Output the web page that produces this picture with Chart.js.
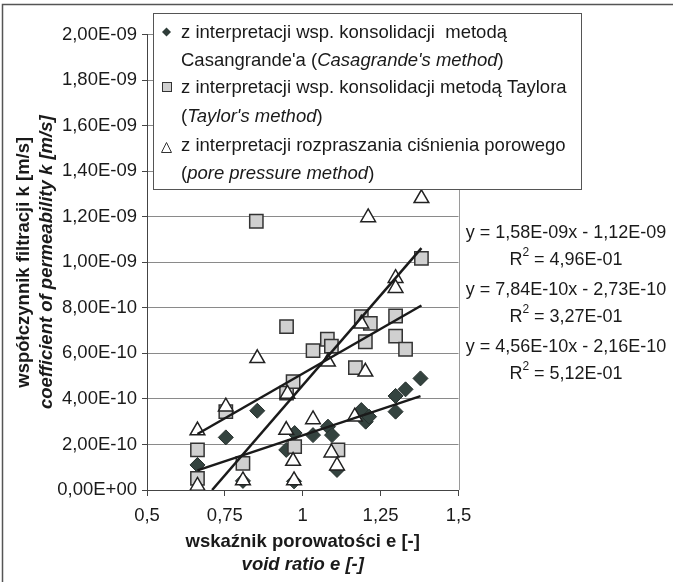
<!DOCTYPE html>
<html>
<head>
<meta charset="utf-8">
<script src="https://cdn.jsdelivr.net/npm/chart.js@4.4.1/dist/chart.umd.min.js"></script>
<style>
  html, body { margin: 0; padding: 0; background: #fff; }
</style>
</head>
<body>
<canvas id="permChart" width="673" height="582"></canvas>
<script>
// values (void ratio e, permeability k in m/s)
const casagrandeX = [0.662, 0.753, 0.808, 0.854, 0.947, 0.972, 0.974, 1.033, 1.081, 1.094, 1.110, 1.188, 1.202, 1.213, 1.298, 1.298, 1.330, 1.378];
const casagrandeY = [1.10e-10, 2.31e-10, 0.40e-10, 3.48e-10, 1.76e-10, 0.38e-10, 2.50e-10, 2.41e-10, 2.78e-10, 2.41e-10, 0.88e-10, 3.51e-10, 3.00e-10, 3.22e-10, 3.44e-10, 4.13e-10, 4.42e-10, 4.90e-10];

const taylorX = [0.662, 0.662, 0.753, 0.808, 0.851, 0.948, 0.948, 0.969, 0.974, 1.033, 1.079, 1.092, 1.113, 1.169, 1.188, 1.201, 1.217, 1.298, 1.298, 1.330, 1.381];
const taylorY = [0.51e-10, 1.76e-10, 3.44e-10, 1.17e-10, 11.8e-10, 7.17e-10, 4.25e-10, 4.76e-10, 1.90e-10, 6.12e-10, 6.62e-10, 6.32e-10, 1.76e-10, 5.37e-10, 7.61e-10, 6.51e-10, 7.32e-10, 7.64e-10, 6.76e-10, 6.18e-10, 10.17e-10];

const poreX = [0.662, 0.662, 0.753, 0.808, 0.854, 0.947, 0.951, 0.969, 0.972, 1.033, 1.081, 1.092, 1.110, 1.167, 1.188, 1.201, 1.210, 1.298, 1.298, 1.381];
const poreY = [0.18e-10, 2.61e-10, 3.66e-10, 0.42e-10, 5.78e-10, 2.63e-10, 4.22e-10, 1.27e-10, 0.42e-10, 3.10e-10, 5.63e-10, 1.64e-10, 1.07e-10, 3.22e-10, 7.30e-10, 5.19e-10, 11.97e-10, 9.30e-10, 8.86e-10, 12.81e-10];

// trend line end points (as drawn)
const trendCasagrandeX = [0.662, 1.378];
const trendCasagrandeY = [0.86e-10, 4.12e-10];
const trendTaylorX = [0.662, 1.381];
const trendTaylorY = [2.46e-10, 8.10e-10];
const trendPoreX = [0.709, 1.381];
const trendPoreY = [0, 10.62e-10];

const xTickLabels = ['0,5', '0,75', '1', '1,25', '1,5'];
const equations = ['y = 1,58E-09x - 1,12E-09', 'y = 7,84E-10x - 2,73E-10', 'y = 4,56E-10x - 2,16E-10'];
const rSquared = ['4,96E-01', '3,27E-01', '5,12E-01'];

const FONT = "'Liberation Sans', Arial, sans-serif";
const FS = 18.5;

function toPoints(xs, ys) {
    return xs.map((x, i) => ({ x: x, y: ys[i] }));
}

function fmtE(v) {
    if (Math.abs(v) < 1e-20) return '0,00E+00';
    const parts = v.toExponential(2).split('e');
    let exp = parseInt(parts[1]);
    const sign = exp < 0 ? '-' : '+';
    exp = Math.abs(exp);
    return parts[0].replace('.', ',') + 'E' + sign + (exp < 10 ? '0' + exp : exp);
}

// draws a line of text made of plain / italic pieces
function drawPieces(c, x, y, pieces) {
    let cx = x;
    pieces.forEach(p => {
        c.font = (p[1] ? 'italic ' : '') + FS + 'px ' + FONT;
        c.fillText(p[0], cx, y);
        cx += c.measureText(p[0]).width;
    });
}

const decor = {
    id: 'decor',
    beforeDraw(chart) {
        const c = chart.ctx;
        c.save();
        c.fillStyle = '#fff';
        c.fillRect(0, 0, chart.width, chart.height);
        c.restore();
    },
    afterDraw(chart) {
        const c = chart.ctx, a = chart.chartArea;
        c.save();

        // right edge of the plot
        c.strokeStyle = '#9a9a9a';
        c.lineWidth = 1;
        c.beginPath();
        c.moveTo(Math.round(a.right) + 0.5, a.top);
        c.lineTo(Math.round(a.right) + 0.5, a.bottom);
        c.stroke();

        // outer frame (only top and left edges are visible)
        c.strokeStyle = '#555';
        c.lineWidth = 1.5;
        c.beginPath();
        c.moveTo(2.5, 582);
        c.lineTo(2.5, 4.5);
        c.lineTo(673, 4.5);
        c.stroke();

        // legend box
        c.fillStyle = '#fff';
        c.fillRect(153.5, 13.5, 428, 176);
        c.strokeStyle = '#555';
        c.lineWidth = 1;
        c.strokeRect(153.5, 13.5, 428, 176);

        c.fillStyle = '#1a1a1a';
        c.textBaseline = 'middle';
        c.textAlign = 'left';
        const lx = 181;
        drawPieces(c, lx, 33, [['z interpretacji wsp. konsolidacji  metodą', false]]);
        drawPieces(c, lx, 61, [["Casangrande'a (", false], ["Casagrande's method", true], [')', false]]);
        drawPieces(c, lx, 88, [['z interpretacji wsp. konsolidacji metodą Taylora', false]]);
        drawPieces(c, lx, 117, [['(', false], ["Taylor's method", true], [')', false]]);
        drawPieces(c, lx, 146, [['z interpretacji rozpraszania ciśnienia porowego', false]]);
        drawPieces(c, lx, 174, [['(', false], ['pore pressure method', true], [')', false]]);

        // legend markers
        c.fillStyle = '#2f3d39';
        c.beginPath();
        c.moveTo(166.5, 27.5); c.lineTo(171, 32); c.lineTo(166.5, 36.5); c.lineTo(162, 32);
        c.closePath();
        c.fill();

        c.fillStyle = '#d0d0d0';
        c.strokeStyle = '#333';
        c.lineWidth = 1;
        c.fillRect(162.5, 82.5, 9, 9);
        c.strokeRect(162.5, 82.5, 9, 9);

        c.fillStyle = '#fff';
        c.beginPath();
        c.moveTo(166.5, 142.5); c.lineTo(171.5, 152.5); c.lineTo(161.5, 152.5);
        c.closePath();
        c.fill();
        c.stroke();

        // trend line equations
        const EFS = 18;
        c.fillStyle = '#1a1a1a';
        c.textAlign = 'center';
        const eqY = [233, 290, 347];
        equations.forEach((eq, i) => {
            c.font = EFS + 'px ' + FONT;
            c.fillText(eq, 566, eqY[i]);
            const rest = ' = ' + rSquared[i];
            const wR = c.measureText('R').width;
            const wRest = c.measureText(rest).width;
            c.font = '12px ' + FONT;
            const w2 = c.measureText('2').width;
            const x0 = 566 - (wR + w2 + wRest) / 2;
            const ry = eqY[i] + 27;
            c.textAlign = 'left';
            c.font = EFS + 'px ' + FONT;
            c.fillText('R', x0, ry);
            c.font = '12px ' + FONT;
            c.fillText('2', x0 + wR, ry - 7);
            c.font = EFS + 'px ' + FONT;
            c.fillText(rest, x0 + wR + w2, ry);
            c.textAlign = 'center';
        });

        // axis titles
        const midX = (a.left + a.right) / 2;
        c.font = 'bold ' + FS + 'px ' + FONT;
        c.fillText('wskaźnik porowatości e [-]', midX, 542);
        c.font = 'italic bold ' + FS + 'px ' + FONT;
        c.fillText('void ratio e [-]', midX, 565);

        const midY = (a.top + a.bottom) / 2;
        c.translate(24, midY);
        c.rotate(-Math.PI / 2);
        c.font = 'bold ' + FS + 'px ' + FONT;
        c.fillText('współczynnik filtracji k [m/s]', 0, 0);
        c.font = 'italic bold ' + FS + 'px ' + FONT;
        c.fillText('coefficient of permeability k [m/s]', 0, 23);

        c.restore();
    }
};

const ctx = document.getElementById('permChart').getContext('2d');
const chart = new Chart(ctx, {
    type: 'scatter',
    data: {
        datasets: [
            { // trend lines on top
                data: toPoints(trendPoreX, trendPoreY),
                showLine: true, borderColor: '#1a1a1a', borderWidth: 2.5, pointRadius: 0, order: 0
            },
            {
                data: toPoints(trendTaylorX, trendTaylorY),
                showLine: true, borderColor: '#1a1a1a', borderWidth: 2.5, pointRadius: 0, order: 0
            },
            {
                data: toPoints(trendCasagrandeX, trendCasagrandeY),
                showLine: true, borderColor: '#1a1a1a', borderWidth: 2.5, pointRadius: 0, order: 0
            },
            {
                label: 'pore pressure method',
                data: toPoints(poreX, poreY),
                pointStyle: 'triangle', pointRadius: 8.5,
                backgroundColor: '#ffffff', borderColor: '#222', borderWidth: 1.5, order: 1
            },
            {
                label: "Taylor's method",
                data: toPoints(taylorX, taylorY),
                pointStyle: 'rect', pointRadius: 9.4,
                backgroundColor: '#d0d0d0', borderColor: '#333', borderWidth: 1.5, order: 2
            },
            {
                label: "Casagrande's method",
                data: toPoints(casagrandeX, casagrandeY),
                pointStyle: 'rectRot', pointRadius: 7.5,
                backgroundColor: '#34433f', borderColor: '#26302d', borderWidth: 1, order: 3
            }
        ]
    },
    options: {
        responsive: false,
        animation: false,
        events: [],
        layout: {
            padding: { left: 0, top: 34.5, right: 214.5, bottom: 52 }
        },
        plugins: {
            legend: { display: false },
            tooltip: { enabled: false }
        },
        scales: {
            x: {
                type: 'linear',
                min: 0.5,
                max: 1.5,
                afterFit: s => { s.height = 40; },
                ticks: {
                    stepSize: 0.25,
                    padding: 9,
                    color: '#1a1a1a',
                    font: { family: FONT, size: FS },
                    callback: (v, i) => xTickLabels[i]
                },
                grid: { drawOnChartArea: false, tickLength: 6, color: '#444' },
                border: { color: '#444', width: 1 }
            },
            y: {
                type: 'linear',
                min: 0,
                max: 2e-9,
                afterFit: s => { s.width = 147; },
                ticks: {
                    stepSize: 2e-10,
                    padding: 5,
                    color: '#1a1a1a',
                    font: { family: FONT, size: FS },
                    callback: v => fmtE(v)
                },
                grid: { color: '#8a8a8a', lineWidth: 1, tickLength: 5, tickColor: '#444' },
                border: { color: '#444', width: 1 }
            }
        }
    },
    plugins: [decor]
});
</script>
</body>
</html>
